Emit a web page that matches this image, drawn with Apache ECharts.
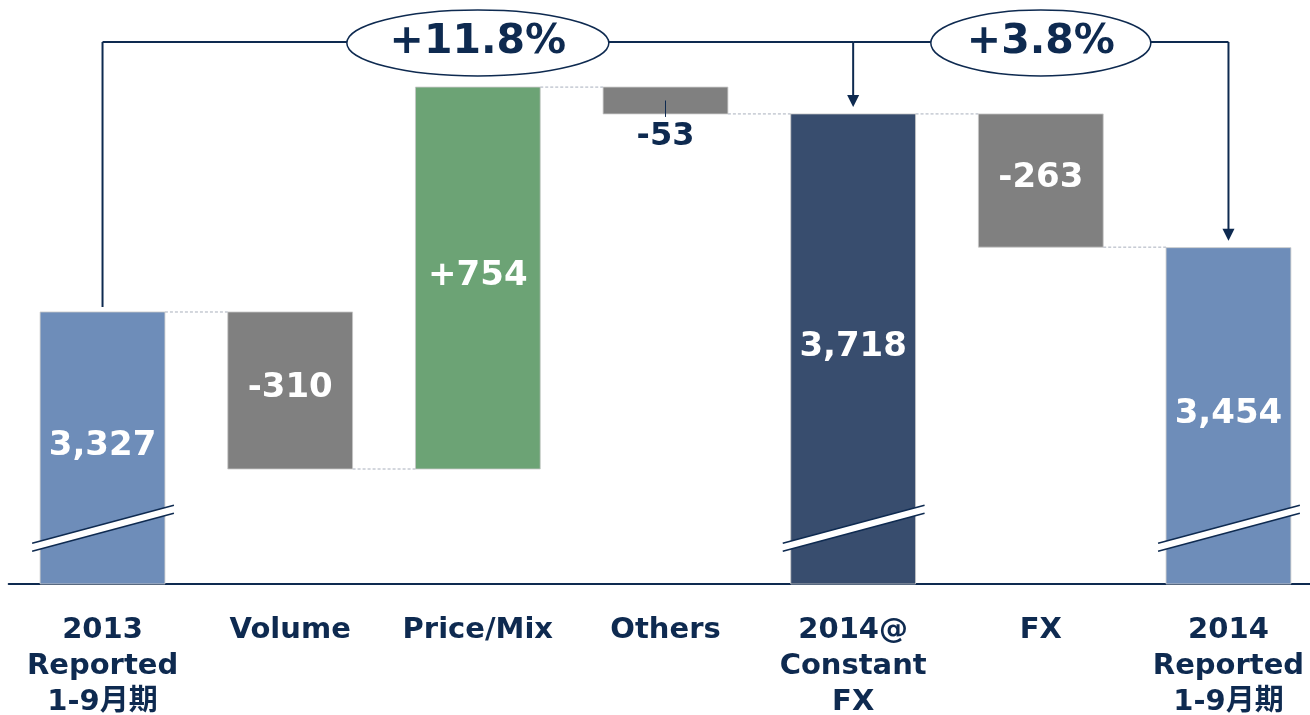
<!DOCTYPE html>
<html>
<head>
<meta charset="utf-8">
<script src="https://cdn.jsdelivr.net/npm/echarts@6/dist/echarts.min.js"></script>
<style>
  html, body { margin: 0; padding: 0; background: #fff; }
  #chart { width: 1310px; height: 715px; }
</style>
</head>
<body>
<div id="chart"></div>
<script>
// waterfall: 2013 -> 2014 bridge
const categories = ['2013\nReported\n1-9月期', 'Volume', 'Price/Mix', 'Others', '2014@\nConstant\nFX', 'FX', '2014\nReported\n1-9月期'];
const values = [3327, -310, 754, -53, 3718, -263, 3454];
const isTotal = [1, 0, 0, 0, 1, 0, 1];
const valueLabels = ['3,327', '-310', '+754', '-53', '3,718', '-263', '3,454'];
const growthLabels = ['+11.8%', '+3.8%'];
const growthFrom = [0, 4];
const growthTo = [4, 6];

// broken axis range
const axisMin = 2790;
const axisMax = 3860;
const breakAt = 2900;

const NAVY = '#0E2A50';
const FONT = '"DejaVu Sans", "Noto Sans CJK JP", sans-serif';
const barColors = ['#6E8DB9', '#808080', '#6CA375', '#808080', '#384D6E', '#808080', '#6E8DB9'];

// build floating bars
let running = 0;
const bars = [];
const levels = [];
values.forEach((v, i) => {
  if (isTotal[i]) {
    bars.push([i, axisMin, v]);
    running = v;
  } else {
    const end = running + v;
    bars.push([i, Math.min(running, end), Math.max(running, end)]);
    running = end;
  }
  levels.push(running);
});

const connectors = levels.slice(0, -1).map((lv, i) => [i, lv]);
const brackets = growthLabels.map((t, k) => [growthFrom[k], growthTo[k], levels[growthFrom[k]], levels[growthTo[k]], k === 0 ? 1 : 0]);

const chart = echarts.init(document.getElementById('chart'));

function renderBar(params, api) {
  const i = api.value(0);
  const top = api.coord([i, api.value(2)]);
  const bottom = api.coord([i, api.value(1)]);
  const w = api.size([1, 0])[0] * 0.665;
  const x0 = top[0] - w / 2;
  const h = bottom[1] - top[1];
  const children = [{
    type: 'rect',
    shape: { x: x0, y: top[1], width: w, height: h },
    style: { fill: barColors[i], stroke: 'rgba(200,200,200,0.8)', lineWidth: 1 }
  }];
  if (h > 40) {
    children.push({
      type: 'text',
      style: {
        text: valueLabels[i], x: top[0], y: top[1] + h / 2 - 2,
        fill: '#fff', font: 'bold 34px ' + FONT, align: 'center', verticalAlign: 'middle'
      }
    });
  } else {
    children.push({
      type: 'line',
      shape: { x1: top[0], y1: top[1] + h / 2, x2: top[0], y2: bottom[1] + 3 },
      style: { stroke: NAVY, lineWidth: 1 }
    });
    children.push({
      type: 'text',
      style: {
        text: valueLabels[i], x: top[0], y: bottom[1] + 23,
        fill: NAVY, font: 'bold 32px ' + FONT, align: 'center', verticalAlign: 'middle'
      }
    });
  }
  if (isTotal[i]) {
    const yc = api.coord([i, breakAt])[1];
    const xl = x0 - 8, xr = x0 + w + 9;
    const yl = yc + 19, yr = yc - 19;
    children.push({
      type: 'polygon',
      shape: { points: [[xl, yl - 4], [xr, yr - 4], [xr, yr + 4], [xl, yl + 4]] },
      style: { fill: '#fff' }
    });
    children.push({ type: 'line', shape: { x1: xl, y1: yl - 4, x2: xr, y2: yr - 4 }, style: { stroke: NAVY, lineWidth: 1.5 } });
    children.push({ type: 'line', shape: { x1: xl, y1: yl + 4, x2: xr, y2: yr + 4 }, style: { stroke: NAVY, lineWidth: 1.5 } });
  }
  return { type: 'group', children };
}

function renderConnector(params, api) {
  const i = api.value(0);
  const w = api.size([1, 0])[0] * 0.665;
  const a = api.coord([i, api.value(1)]);
  const b = api.coord([i + 1, api.value(1)]);
  return {
    type: 'line',
    shape: { x1: a[0] + w / 2, y1: a[1], x2: b[0] - w / 2, y2: a[1] },
    style: { stroke: '#A8AFBC', lineWidth: 1, lineDash: [3, 2] }
  };
}

function renderBracket(params, api) {
  const from = api.value(0), to = api.value(1);
  const yTop = api.coord([from, axisMax])[1];
  const p0 = api.coord([from, api.value(2)]);
  const p1 = api.coord([to, api.value(3)]);
  const lineStyle = { stroke: NAVY, lineWidth: 2 };
  const children = [];
  if (api.value(4)) {
    children.push({ type: 'line', shape: { x1: p0[0], y1: p0[1] - 5, x2: p0[0], y2: yTop }, style: lineStyle });
  }
  children.push({ type: 'line', shape: { x1: p0[0], y1: yTop, x2: p1[0], y2: yTop }, style: lineStyle });
  const tip = p1[1] - 7;
  children.push({ type: 'line', shape: { x1: p1[0], y1: yTop, x2: p1[0], y2: tip - 10 }, style: lineStyle });
  children.push({
    type: 'polygon',
    shape: { points: [[p1[0] - 6, tip - 12], [p1[0] + 6, tip - 12], [p1[0], tip]] },
    style: { fill: NAVY }
  });
  const mid = api.coord([(from + to) / 2, axisMax]);
  const rx = (to - from) === 4 ? 131 : 110, ry = 33;
  const cx = mid[0], cy = yTop + 1;
  children.push({
    type: 'path',
    shape: { pathData: `M ${cx - rx} ${cy} A ${rx} ${ry} 0 1 0 ${cx + rx} ${cy} A ${rx} ${ry} 0 1 0 ${cx - rx} ${cy} Z` },
    style: { fill: '#fff', stroke: NAVY, lineWidth: 1.5 }
  });
  children.push({
    type: 'text',
    style: {
      text: growthLabels[params.dataIndex], x: cx, y: cy - 1,
      fill: NAVY, font: 'bold 41px ' + FONT, align: 'center', verticalAlign: 'middle'
    }
  });
  return { type: 'group', children };
}

const option = {
  animation: false,
  grid: { left: 8.7, right: -12.3, top: 42, bottom: 131, outerBoundsMode: 'none', containLabel: false },
  xAxis: {
    type: 'category',
    data: categories,
    axisLine: { lineStyle: { color: NAVY, width: 2 } },
    axisTick: { show: false },
    axisLabel: {
      interval: 0, margin: 28, color: NAVY, fontSize: 29, fontWeight: 'bold',
      fontFamily: FONT, lineHeight: 36
    }
  },
  yAxis: {
    type: 'value', min: axisMin, max: axisMax, show: false, splitLine: { show: false }
  },
  series: [
    { type: 'custom', renderItem: renderConnector, data: connectors, z: 1, encode: { x: 0, y: 1 } },
    { type: 'custom', renderItem: renderBar, data: bars, z: 2, encode: { x: 0, y: [1, 2] } },
    { type: 'custom', renderItem: renderBracket, data: brackets, z: 3, clip: false, encode: { x: [0, 1], y: [2, 3] } }
  ]
};

chart.setOption(option);
window.addEventListener('resize', () => chart.resize());
</script>
</body>
</html>
